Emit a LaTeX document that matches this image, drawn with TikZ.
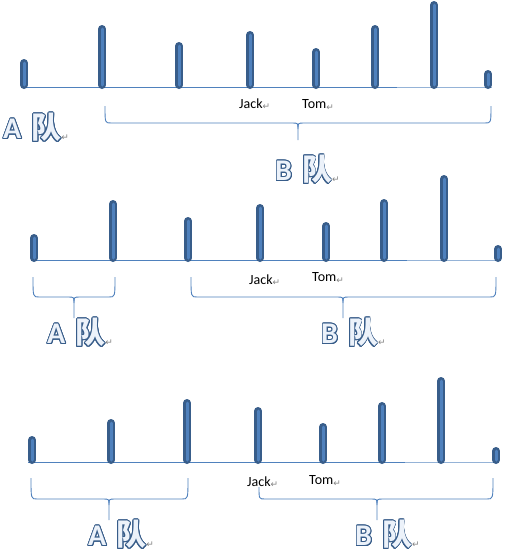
\documentclass[tikz,border=0pt]{standalone}
\usepackage{fontspec}
\setmainfont{Carlito}
\newfontfamily\cjk{Noto Sans CJK SC}
\newfontfamily\symfont{DejaVu Sans}
\usepackage{xcolor}
\usepackage{contour}
\usepackage{tikz}
\definecolor{qdark}{RGB}{56,93,138}
\definecolor{qmid}{RGB}{79,129,189}
\definecolor{qlight}{RGB}{149,179,215}
\definecolor{qfill}{RGB}{236,242,250}
\definecolor{qmark}{RGB}{130,130,130}
\contourlength{0.9pt}
\newcommand{\retmark}{{\symfont\fontsize{9}{9}\selectfont\color{qmark}\raisebox{-0.3ex}{↵}}}
\newcommand{\teamlabel}[1]{\contour{qdark}{\color{qfill}\bfseries #1\hspace{10pt}{\cjk 队}}\retmark}
% brace: x1 y1 x2 y2 xtip yh ytip
\newcommand{\teambrace}[7]{%
  \draw[qmid,line width=0.9pt] (#1,#2) .. controls (#1,#6) .. (#1+6,#6) -- (#5-6,#6)
    .. controls (#5,#6) .. (#5,#6+6) -- (#5,#7);
  \draw[qmid,line width=0.9pt] (#3,#4) .. controls (#3,#6) .. (#3-6,#6) -- (#5+6,#6)
    .. controls (#5,#6) .. (#5,#6+6);}

\begin{document}
\begin{tikzpicture}[x=1pt,y=-1pt,
    stick/.style={line width=8pt,line cap=round,qdark},
    stickin/.style={line width=3pt,line cap=round,qmid},
    who/.style={font=\fontsize{14}{14}\selectfont,anchor=west,inner sep=0pt},
    team/.style={font=\fontsize{30}{32}\selectfont,anchor=west,inner sep=0pt}]
  \useasboundingbox[fill=white] (0,0) rectangle (526,558);

  % first row
  \draw[qmid,line width=1pt] (23,87) -- (397,87);
  \draw[qlight,line width=1pt] (397,87) -- (492,87);
  \foreach \x/\t in {24/59,102/25,179/42,250/31,316/48,375/25,434/1,488/70} {
    \draw[stick] (\x,85) -- (\x,\t+4);
    \draw[stickin] (\x,85) -- (\x,\t+4);
  }
  \node[who] (jack1) at (239,104) {Jack\retmark};
  \node[who] (tom1) at (302,105) {Tom\retmark};
  \teambrace{105}{106}{491}{106}{298}{123}{140}
  \node[team] (a1) at (3,128) {\teamlabel{A}};
  \node[team] (b1) at (275,170) {\teamlabel{B}};

  % second row
  \draw[qmid,line width=1pt] (33,260) -- (407,260);
  \draw[qlight,line width=1pt] (407,260) -- (500,260);
  \foreach \x/\t in {34/234,113/200,188/217,260/204,326/222,384/199,444/175,498/245} {
    \draw[stick] (\x,258) -- (\x,\t+4);
    \draw[stickin] (\x,258) -- (\x,\t+4);
  }
  \node[who] (jack2) at (249,280) {Jack\retmark};
  \node[who] (tom2) at (312,278) {Tom\retmark};
  \teambrace{33}{277}{115}{277}{74}{297}{318}
  \teambrace{191}{277}{496}{277}{343}{297}{318}
  \node[team] (a2) at (47,333) {\teamlabel{A}};
  \node[team] (b2) at (321,333) {\teamlabel{B}};

  % third row
  \draw[qmid,line width=1pt] (28,462) -- (405,462);
  \draw[qlight,line width=1pt] (405,462) -- (498,462);
  \foreach \x/\t in {32/436,111/419,187/399,258/407,323/423,382/402,441/377,496/447} {
    \draw[stick] (\x,460) -- (\x,\t+4);
    \draw[stickin] (\x,460) -- (\x,\t+4);
  }
  \node[who] (jack3) at (247,482) {Jack\retmark};
  \node[who] (tom3) at (309,481) {Tom\retmark};
  \teambrace{31}{478}{188}{478}{109}{499}{520}
  \teambrace{259}{487}{493}{478}{377}{499}{520}
  \node[team] (a3) at (88,535) {\teamlabel{A}};
  \node[team] (b3) at (355,535) {\teamlabel{B}};
\end{tikzpicture}
\end{document}
